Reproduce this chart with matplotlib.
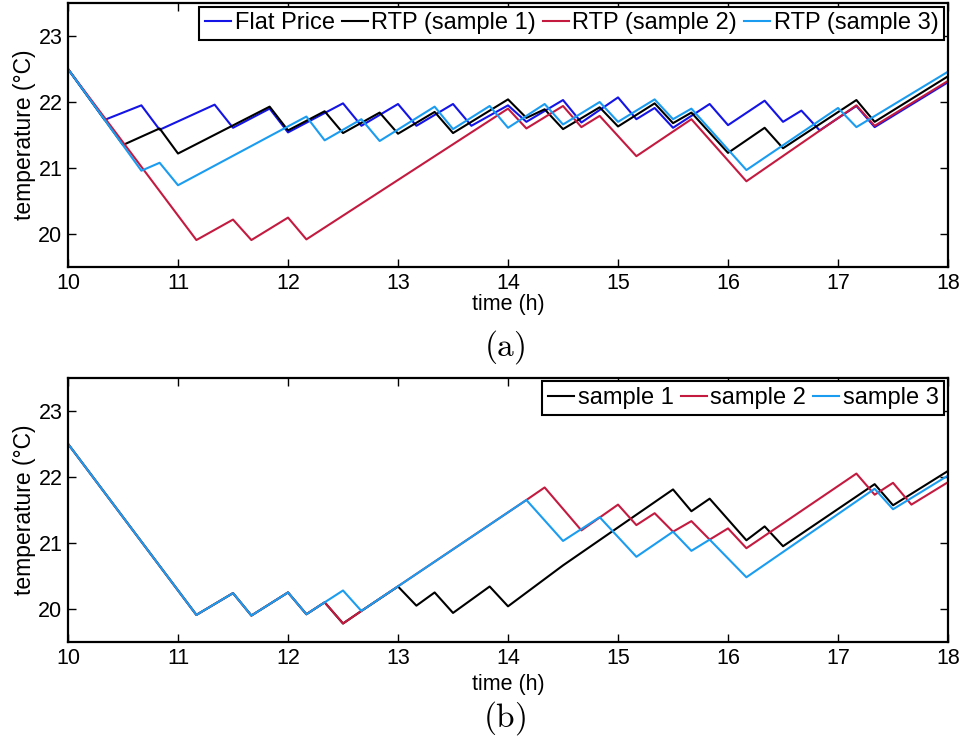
import matplotlib; matplotlib.use('Agg')
import matplotlib.pyplot as plt

# (a) flat price vs RTP samples -- vertices
t_flat=[10,10.333,10.667,10.833,11.333,11.5,11.833,12.0,12.5,12.667,13.0,13.167,13.5,13.667,14.0,14.167,14.5,14.667,
        15.0,15.167,15.333,15.5,15.833,16.0,16.333,16.5,16.667,16.833,17.167,17.333,18.0]
T_flat=[22.5,21.73,21.95,21.58,21.96,21.61,21.90,21.54,21.98,21.64,21.97,21.64,21.97,21.64,21.95,21.70,22.03,21.69,
        22.07,21.74,21.91,21.61,21.97,21.65,22.02,21.70,21.87,21.57,21.94,21.62,22.30]
t_rtp1=[10,10.5,10.833,11.0,11.833,12.0,12.333,12.5,12.833,13.0,13.333,13.5,14.0,14.167,14.333,14.5,14.833,15.0,
        15.333,15.5,15.667,16.0,16.333,16.5,17.167,17.333,18.0]
T_rtp1=[22.5,21.35,21.60,21.22,21.93,21.57,21.86,21.53,21.84,21.52,21.85,21.53,22.04,21.76,21.89,21.59,21.92,21.63,
        21.98,21.68,21.84,21.23,21.61,21.30,22.03,21.70,22.39]
t_rtp2=[10,11.167,11.5,11.667,12.0,12.167,14.0,14.167,14.5,14.667,14.833,15.167,15.667,16.167,17.167,17.333,18.0]
T_rtp2=[22.5,19.91,20.22,19.91,20.25,19.92,21.90,21.60,21.94,21.62,21.79,21.18,21.74,20.80,21.95,21.64,22.32]
t_rtp3=[10,10.667,10.833,11.0,12.167,12.333,12.667,12.833,13.333,13.5,13.833,14.0,14.333,14.5,14.833,15.0,
        15.333,15.5,15.667,16.167,17.0,17.167,18.0]
T_rtp3=[22.5,20.96,21.08,20.74,21.78,21.42,21.74,21.41,21.93,21.59,21.94,21.61,21.97,21.66,22.00,21.70,
        22.04,21.74,21.90,20.97,21.91,21.62,22.46]

# (b) three samples
t_s1=[10,11.167,11.5,11.667,12.0,12.167,12.333,12.5,12.667,13.0,13.167,13.333,13.5,13.833,14.0,14.5,15.5,
      15.667,15.833,16.167,16.333,16.5,17.333,17.5,18.0]
T_s1=[22.5,19.91,20.24,19.90,20.25,19.92,20.10,19.78,19.97,20.34,20.05,20.25,19.94,20.34,20.04,20.66,21.81,
      21.48,21.67,21.04,21.25,20.95,21.89,21.57,22.09]
t_s2=[10,11.167,11.5,11.667,12.0,12.167,12.333,12.5,12.667,14.167,14.333,14.667,15.0,15.167,15.333,15.5,
      15.667,15.833,16.0,16.167,17.167,17.333,17.5,17.667,18.0]
T_s2=[22.5,19.91,20.24,19.90,20.25,19.92,20.10,19.78,19.97,21.65,21.84,21.19,21.58,21.27,21.45,21.17,
      21.33,21.05,21.22,20.92,22.05,21.73,21.91,21.58,21.92]
t_s3=[10,11.167,11.5,11.667,12.0,12.167,12.333,12.5,12.667,14.167,14.5,14.833,15.167,15.5,15.667,15.833,
      16.167,17.333,17.5,18.0]
T_s3=[22.5,19.91,20.24,19.90,20.25,19.92,20.10,20.28,19.97,21.65,21.03,21.39,20.79,21.17,20.88,21.05,
      20.48,21.82,21.51,22.02]

xticks=list(range(10,19)); yticks=[20,21,22,23]
BLUE,BLACK,RED,LBLUE='#1414e6','#000000','#c41a40','#1a9cf0'
FONT='Liberation Sans'

fig=plt.figure(figsize=(9.66,7.42),dpi=100,facecolor='white')
axa=fig.add_axes([0.0704,0.640,0.911,0.356])
axb=fig.add_axes([0.0704,0.1348,0.911,0.356])

axa.plot(t_flat,T_flat,color=BLUE,lw=1.5,label='Flat Price')
axa.plot(t_rtp1,T_rtp1,color=BLACK,lw=1.5,label='RTP (sample 1)')
axa.plot(t_rtp2,T_rtp2,color=RED,lw=1.5,label='RTP (sample 2)')
axa.plot(t_rtp3,T_rtp3,color=LBLUE,lw=1.5,label='RTP (sample 3)')

axb.plot(t_s1,T_s1,color=BLACK,lw=1.5,label='sample 1')
axb.plot(t_s2,T_s2,color=RED,lw=1.5,label='sample 2')
axb.plot(t_s3,T_s3,color=LBLUE,lw=1.5,label='sample 3')

for ax,ncol,tag,ty,lp in ((axa,4,'(a)',0.532,0),(axb,3,'(b)',0.032,4)):
    ax.set_xlim(10,18); ax.set_ylim(19.5,23.5)
    ax.set_xticks(xticks); ax.set_yticks(yticks)
    ax.tick_params(direction='in',top=True,right=True,length=6,width=1,labelsize=15.5,pad=4)
    for lab in ax.get_xticklabels()+ax.get_yticklabels(): lab.set_family(FONT)
    for s in ax.spines.values(): s.set_linewidth(1.6)
    ax.set_xlabel('time (h)',fontsize=15.5,family=FONT,labelpad=lp)
    ax.set_ylabel('temperature (°C)',fontsize=16.5,family=FONT,labelpad=2)
    leg=ax.legend(loc='upper right',ncol=ncol,handlelength=1.1,handletextpad=0.15,
                  columnspacing=0.3,borderpad=0.25,borderaxespad=0.15,fancybox=False,framealpha=1,
                  prop={'family':FONT,'size':17})
    leg.get_frame().set_edgecolor('black'); leg.get_frame().set_linewidth(1.5)
    fig.text(0.522,ty,r'$\mathrm{%s}$'%tag,ha='center',va='center',fontsize=24,math_fontfamily='cm')

fig.savefig('out.png',dpi=100,facecolor='white')
